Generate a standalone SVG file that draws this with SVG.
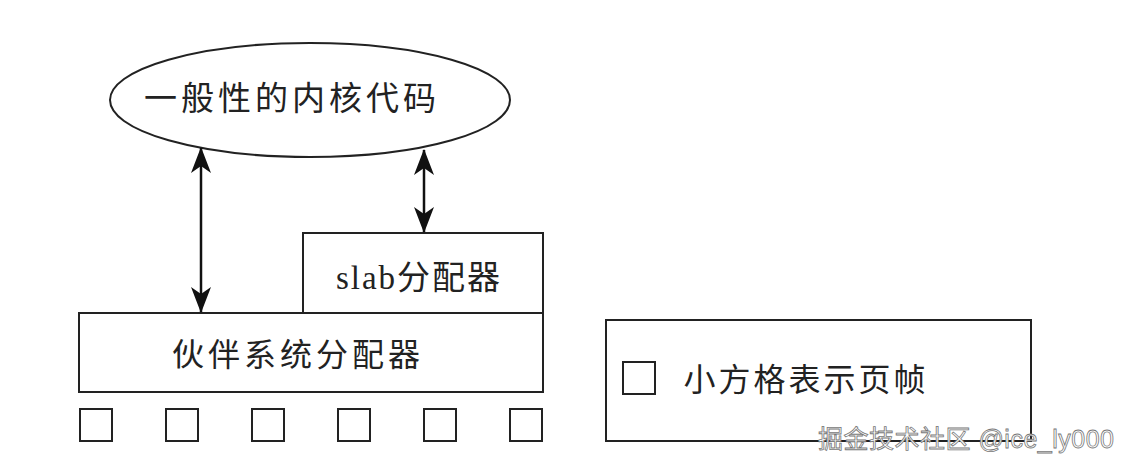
<svg xmlns="http://www.w3.org/2000/svg" width="1132" height="472" viewBox="0 0 1132 472">
<defs>
<style>
.shape{fill:#fff;stroke:#222;stroke-width:2}
.lbl{font-family:"Liberation Serif","Noto Sans CJK SC",serif;fill:#222;text-anchor:middle;dominant-baseline:central}
.conn{stroke:#111;stroke-width:2.5;fill:none}
.wm{font-family:"Liberation Sans","Noto Sans CJK SC",sans-serif;font-size:25px;fill:#fff;stroke:#777;stroke-width:0.8}
</style>
<marker id="ah" viewBox="0 0 26 20" refX="25" refY="10" markerWidth="26" markerHeight="20" markerUnits="userSpaceOnUse" orient="auto-start-reverse">
<path d="M0,0 L26,10 L0,20 L7,10 Z" fill="#111"/>
</marker>
</defs>
<rect width="1132" height="472" fill="#fff"/>
<g id="kernel">
<ellipse class="shape" cx="310" cy="100" rx="200" ry="57"/>
<text class="lbl" x="292" y="99" font-size="33" letter-spacing="4">一般性的内核代码</text>
</g>
<g id="buddy">
<rect class="shape" x="79" y="313" width="464" height="79"/>
<text class="lbl" x="298" y="355" font-size="32" letter-spacing="4">伙伴系统分配器</text>
</g>
<g id="slab">
<rect class="shape" x="303" y="233" width="240" height="80"/>
<text class="lbl" x="419" y="278" font-size="33" letter-spacing="2">slab分配器</text>
</g>
<g id="frames">
<rect class="shape" x="80" y="409" width="32" height="32"/>
<rect class="shape" x="166" y="409" width="32" height="32"/>
<rect class="shape" x="252" y="409" width="32" height="32"/>
<rect class="shape" x="338" y="409" width="32" height="32"/>
<rect class="shape" x="424" y="409" width="32" height="32"/>
<rect class="shape" x="510" y="409" width="32" height="32"/>
</g>
<g id="legend">
<rect class="shape" x="606" y="320" width="425" height="121"/>
<rect class="shape" x="623" y="362" width="32" height="32"/>
<text class="lbl" x="806" y="380" font-size="32" letter-spacing="3">小方格表示页帧</text>
</g>
<g id="connectors">
<line class="conn" x1="201" y1="148" x2="201" y2="312" marker-start="url(#ah)" marker-end="url(#ah)"/>
<line class="conn" x1="424" y1="150" x2="424" y2="232" marker-start="url(#ah)" marker-end="url(#ah)"/>
</g>
<text class="wm" x="818" y="448" letter-spacing="0.5">掘金技术社区 @ice_ly000</text>
</svg>
